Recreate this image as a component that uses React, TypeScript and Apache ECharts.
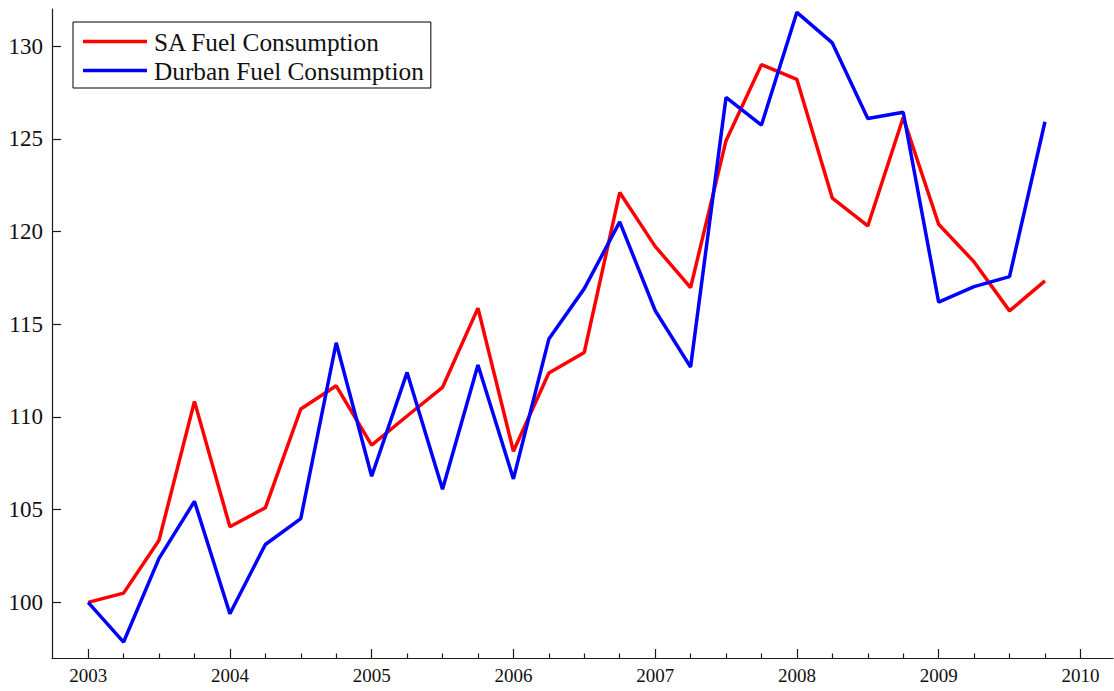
import React, { useEffect, useRef } from "react";
import * as echarts from "echarts";

// Quarterly index (2003 Q1 = 100)
const quarters = [
  2003.0, 2003.25, 2003.5, 2003.75,
  2004.0, 2004.25, 2004.5, 2004.75,
  2005.0, 2005.25, 2005.5, 2005.75,
  2006.0, 2006.25, 2006.5, 2006.75,
  2007.0, 2007.25, 2007.5, 2007.75,
  2008.0, 2008.25, 2008.5, 2008.75,
  2009.0, 2009.25, 2009.5, 2009.75,
];

const saFuel = [
  100.0, 100.5, 103.35, 110.84,
  104.08, 105.1, 110.43, 111.68,
  108.48, 110.05, 111.6, 115.87,
  108.15, 112.37, 113.48, 122.1,
  119.2, 116.97, 124.9, 129.0,
  128.2, 121.8, 120.3, 126.15,
  120.39, 118.36, 115.72, 117.34,
];

const durbanFuel = [
  100.0, 97.86, 102.37, 105.45,
  99.39, 103.12, 104.52, 114.0,
  106.8, 112.4, 106.1, 112.8,
  106.66, 114.2, 116.92, 120.52,
  115.74, 112.69, 127.23, 125.74,
  131.82, 130.17, 126.1, 126.43,
  116.19, 117.03, 117.57, 125.92,
];

const yearTicks = [2003, 2004, 2005, 2006, 2007, 2008, 2009, 2010];
const quarterTicks = [
  2003.25, 2003.5, 2003.75, 2004.25, 2004.5, 2004.75,
  2005.25, 2005.5, 2005.75, 2006.25, 2006.5, 2006.75,
  2007.25, 2007.5, 2007.75, 2008.25, 2008.5, 2008.75,
  2009.25, 2009.5, 2009.75,
];
const valueTicks = [100, 105, 110, 115, 120, 125, 130];

const X_MIN = 2002.745;
const X_MAX = 2010.23;

const SERIF = "'Liberation Serif', 'Times New Roman', serif";
const AXIS_COLOR = "#1a1a1a";

export default function App() {
  const ref = useRef<HTMLDivElement>(null);

  useEffect(() => {
    if (!ref.current) return;
    const chart = echarts.init(ref.current, null, { renderer: "svg" });

    const pairs = (vals: number[]) => quarters.map((q, i) => [q, vals[i]]);

    chart.setOption({
      animation: false,
      backgroundColor: "#ffffff",
      grid: { left: 52, right: 1, top: 9, bottom: 33, containLabel: false },
      legend: {
        left: 73,
        top: 22,
        orient: "vertical",
        backgroundColor: "#ffffff",
        borderColor: "#000000",
        borderWidth: 1,
        padding: [5, 7, 3, 10],
        itemGap: 0,
        itemWidth: 64,
        itemHeight: 3.5,
        icon: "rect",
        textStyle: {
          fontFamily: SERIF,
          fontSize: 25.3,
          color: "#111111",
          lineHeight: 29,
          padding: [0, 0, 0, 2],
        },
        data: ["SA Fuel Consumption", "Durban Fuel Consumption"],
      },
      xAxis: [
        {
          type: "value",
          min: X_MIN,
          max: X_MAX,
          splitLine: { show: false },
          axisLine: { show: true, onZero: false, lineStyle: { color: AXIS_COLOR, width: 1.2 } },
          axisTick: {
            show: true,
            inside: true,
            length: 9,
            customValues: yearTicks,
            lineStyle: { color: AXIS_COLOR, width: 1.2 },
          },
          axisLabel: {
            show: true,
            customValues: yearTicks,
            margin: 8,
            fontFamily: SERIF,
            fontSize: 19,
            color: "#111111",
            formatter: (v: number) => String(Math.round(v)),
          },
        },
        {
          type: "value",
          position: "bottom",
          min: X_MIN,
          max: X_MAX,
          splitLine: { show: false },
          axisLine: { show: false },
          axisTick: {
            show: true,
            inside: true,
            length: 4.5,
            customValues: quarterTicks,
            lineStyle: { color: AXIS_COLOR, width: 1.2 },
          },
          axisLabel: { show: false },
        },
      ],
      yAxis: {
        type: "value",
        min: 97,
        max: 132,
        splitLine: { show: false },
        axisLine: { show: true, onZero: false, lineStyle: { color: AXIS_COLOR, width: 1.2 } },
        axisTick: {
          show: true,
          inside: true,
          length: 9,
          customValues: valueTicks,
          lineStyle: { color: AXIS_COLOR, width: 1.2 },
        },
        axisLabel: {
          show: true,
          customValues: valueTicks,
          margin: 9,
          fontFamily: SERIF,
          fontSize: 23,
          color: "#111111",
        },
      },
      series: [
        {
          name: "SA Fuel Consumption",
          type: "line",
          data: pairs(saFuel),
          showSymbol: false,
          lineStyle: { color: "#ff0000", width: 3.5 },
          itemStyle: { color: "#ff0000" },
          z: 2,
        },
        {
          name: "Durban Fuel Consumption",
          type: "line",
          data: pairs(durbanFuel),
          showSymbol: false,
          lineStyle: { color: "#0000ff", width: 3.5 },
          itemStyle: { color: "#0000ff" },
          z: 3,
        },
      ],
    });

    return () => chart.dispose();
  }, []);

  return (
    <div
      ref={ref}
      style={{ position: "fixed", left: 0, top: 0, width: 1114, height: 691, background: "#fff" }}
    />
  );
}
